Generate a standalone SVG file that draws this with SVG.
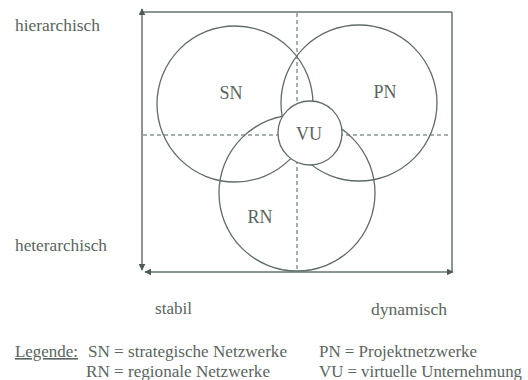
<svg xmlns="http://www.w3.org/2000/svg" width="528" height="380" viewBox="0 0 528 380">
<style>
.ln{stroke:#66756e;stroke-width:1.5;fill:none}
.dash{stroke:#8a9690;stroke-width:1.5;stroke-dasharray:4 3;fill:none}
.circ{stroke:#5f6d67;stroke-width:1.3;fill:none}
.circw{stroke:#5f6d67;stroke-width:1.3;fill:#ffffff}
.t{font-family:"Liberation Serif","Times New Roman",serif;fill:#5a6460}
.lab{font-size:18px;text-anchor:middle}
.ax{font-size:16px}
.lg{font-size:16px}
</style>
<defs>
<marker id="ah" viewBox="0 0 10 10" refX="9" refY="5" markerWidth="7" markerHeight="7" markerUnits="userSpaceOnUse" orient="auto-start-reverse">
<path d="M0,0 L10,5 L0,10 z" fill="#4e5c55"/>
</marker>
</defs>
<rect width="528" height="380" fill="#ffffff"/>
<g id="connectors">
<line class="ln" x1="142" y1="12" x2="452" y2="12"/>
<line class="ln" x1="452" y1="12" x2="452" y2="272"/>
<line class="ln" x1="142" y1="270" x2="142" y2="9" marker-start="url(#ah)" marker-end="url(#ah)"/>
<line class="ln" x1="145" y1="272" x2="453" y2="272" marker-start="url(#ah)" marker-end="url(#ah)"/>
<line class="dash" x1="143" y1="135" x2="451" y2="135"/>
<line class="dash" x1="297" y1="13" x2="297" y2="271"/>
</g>
<g id="SN">
<circle class="circ" cx="235" cy="104" r="78"/>
<text class="t lab" x="231" y="99">SN</text>
</g>
<g id="PN">
<circle class="circ" cx="359" cy="103" r="78"/>
<text class="t lab" x="385" y="98">PN</text>
</g>
<g id="RN">
<circle class="circ" cx="297" cy="193" r="78"/>
<text class="t lab" x="260" y="223">RN</text>
</g>
<g id="VU">
<circle class="circw" cx="310" cy="133" r="32"/>
<text class="t lab" x="309" y="140">VU</text>
</g>
<g id="labels">
<text class="t ax" x="15" y="31" textLength="85" lengthAdjust="spacingAndGlyphs">hierarchisch</text>
<text class="t ax" x="15" y="251" textLength="92" lengthAdjust="spacingAndGlyphs">heterarchisch</text>
<text class="t ax" x="155" y="314" textLength="37" lengthAdjust="spacingAndGlyphs">stabil</text>
<text class="t ax" x="371" y="315" textLength="76" lengthAdjust="spacingAndGlyphs">dynamisch</text>
</g>
<g id="legend">
<text class="t lg" x="15" y="357" text-decoration="underline" textLength="63" lengthAdjust="spacingAndGlyphs">Legende:</text>
<text class="t lg" x="88" y="357" textLength="199" lengthAdjust="spacingAndGlyphs">SN = strategische Netzwerke</text>
<text class="t lg" x="86" y="377" textLength="184" lengthAdjust="spacingAndGlyphs">RN = regionale Netzwerke</text>
<text class="t lg" x="319" y="357" textLength="158" lengthAdjust="spacingAndGlyphs">PN = Projektnetzwerke</text>
<text class="t lg" x="319" y="377" textLength="203" lengthAdjust="spacingAndGlyphs">VU = virtuelle Unternehmung</text>
</g>
</svg>
